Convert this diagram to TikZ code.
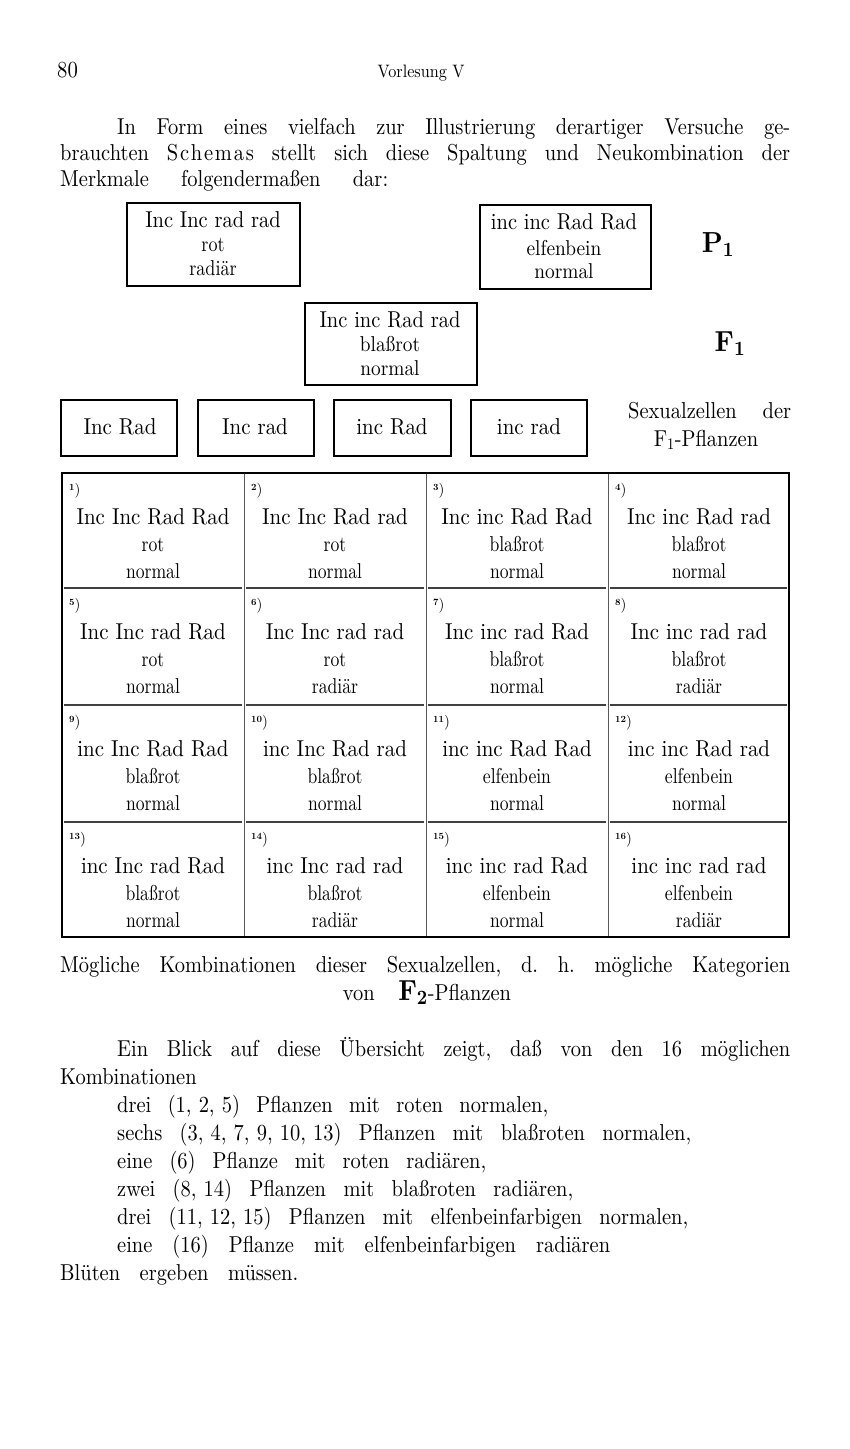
\documentclass[tikz,border=0pt]{standalone}
\usepackage{graphicx}
\DeclareFontShape{TU}{lmr}{m}{n}{<-> "[lmroman10-regular]:+tlig;"}{}
\DeclareFontShape{TU}{lmr}{b}{n}{<-> "[lmromandemi10-regular]:+tlig;"}{}
\DeclareFontShape{TU}{lmr}{bx}{n}{<-> "[lmroman10-bold]:+tlig;"}{}
\newcommand\myfs[1]{\fontsize{#1}{#1}\selectfont}
\newcommand\cnd[2]{\scalebox{#1}[1]{#2}}
\newcommand\jl[2]{\scalebox{0.89}[1]{\makebox[\dimexpr #1pt*100/89\relax][s]{#2}}}
\newcommand\numlab[1]{{\myfs{15}\raisebox{4pt}{\myfs{9.5}\bfseries #1})}}
\newcommand\cs{,\kern8pt }
\frenchspacing
\begin{document}
\begin{tikzpicture}[x=1pt,y=-1pt,
  box/.style={draw, line width=2.4pt, inner sep=0pt},
  txt/.style={anchor=base, inner sep=0pt},
  ltxt/.style={anchor=base west, inner sep=0pt},
  body/.style={ltxt, font=\myfs{23}},
  maintxt/.style={txt, font=\myfs{23}},
  subtxt/.style={txt, font=\myfs{21.5}},
  grid/.style={line width=0.9pt, black!65},
  frame/.style={line width=2.8pt, black}]
\path[fill=white,use as bounding box] (0,0) rectangle (850,1449);

% header
\node[ltxt, font=\myfs{23}] (pg) at (57,77) {\cnd{0.9}{80}};
\node[txt, font=\myfs{18}] (hd) at (421,77) {\cnd{0.9}{Vorlesung V}};

% first paragraph
\node[body] (t1) at (117,134) {\jl{673}{In Form eines vielfach zur Illustrierung derartiger Versuche ge-}};
\node[body] (t2) at (60,160) {\jl{730}{brauchten S\kern2pt c\kern2pt h\kern2pt e\kern2pt m\kern2pt a\kern2pt s stellt sich diese Spaltung und Neukombination der}};
\node[body] (t3) at (60,186) {\jl{328}{Merkmale folgendermaßen dar:}};

% P1 generation
\node[box, minimum width=173pt, minimum height=83pt] (pa) at (213.5,244.5) {};
\node[maintxt] (pam) at (213,227) {\cnd{0.89}{Inc Inc rad rad}};
\node[subtxt] (pa1) at (213,251) {\cnd{0.84}{rot}};
\node[subtxt] (pa2) at (213,275) {\cnd{0.84}{radiär}};

\node[box, minimum width=171pt, minimum height=84pt] (pb) at (565.5,247) {};
\node[maintxt] (pbm) at (564,229) {\cnd{0.89}{inc inc Rad Rad}};
\node[subtxt] (pb1) at (564,255) {\cnd{0.9}{elfenbein}};
\node[subtxt] (pb2) at (564,278) {\cnd{0.9}{normal}};

\node[txt, font=\myfs{29}\bfseries] (P1) at (718,252) {\cnd{0.92}{P\textsubscript{1}}};

% F1 generation
\node[box, minimum width=172pt, minimum height=82pt] (f) at (391,344) {};
\node[maintxt] (fm) at (390,327) {\cnd{0.89}{Inc inc Rad rad}};
\node[subtxt] (f1) at (390,351) {\cnd{0.9}{blaßrot}};
\node[subtxt] (f2) at (390,375) {\cnd{0.9}{normal}};

\node[txt, font=\myfs{29}\bfseries] (F1) at (730,351) {\cnd{0.92}{F\textsubscript{1}}};

% gametes
\node[box, minimum width=116pt, minimum height=56pt] (g1) at (119,428) {};
\node[box, minimum width=116pt, minimum height=56pt] (g2) at (256,428) {};
\node[box, minimum width=117pt, minimum height=56pt] (g3) at (392.5,428) {};
\node[box, minimum width=116pt, minimum height=56pt] (g4) at (529,428) {};
\node[maintxt] (g1t) at (120,434) {\cnd{0.91}{Inc Rad}};
\node[maintxt] (g2t) at (255,434) {\cnd{0.91}{Inc rad}};
\node[maintxt] (g3t) at (392,434) {\cnd{0.91}{inc Rad}};
\node[maintxt] (g4t) at (529,434) {\cnd{0.91}{inc rad}};

\node[body] (sx1) at (628,418) {\jl{163}{Sexualzellen der}};
\node[txt, font=\myfs{23}] (sx2) at (706,446) {\cnd{0.89}{F\textsubscript{1}-Pflanzen}};

% table
\foreach \x in {244,426,608} \draw[grid] (\x,473) -- (\x,937);
\foreach \y in {588,705,822}
  \foreach \l/\r in {64/242,246/424,428/606,610/787}
    \draw[grid, line width=1.1pt, black!75] (\l,\y) -- (\r,\y);
\draw[frame] (62,473) rectangle (789,937);

\foreach \n/\col/\row/\m/\a/\b in {
  1/0/0/{Inc Inc Rad Rad}/rot/normal,
  2/1/0/{Inc Inc Rad rad}/rot/normal,
  3/2/0/{Inc inc Rad Rad}/blaßrot/normal,
  4/3/0/{Inc inc Rad rad}/blaßrot/normal,
  5/0/1/{Inc Inc rad Rad}/rot/normal,
  6/1/1/{Inc Inc rad rad}/rot/radiär,
  7/2/1/{Inc inc rad Rad}/blaßrot/normal,
  8/3/1/{Inc inc rad rad}/blaßrot/radiär,
  9/0/2/{inc Inc Rad Rad}/blaßrot/normal,
  10/1/2/{inc Inc Rad rad}/blaßrot/normal,
  11/2/2/{inc inc Rad Rad}/elfenbein/normal,
  12/3/2/{inc inc Rad rad}/elfenbein/normal,
  13/0/3/{inc Inc rad Rad}/blaßrot/normal,
  14/1/3/{inc Inc rad rad}/blaßrot/radiär,
  15/2/3/{inc inc rad Rad}/elfenbein/normal,
  16/3/3/{inc inc rad rad}/elfenbein/radiär}{
  \pgfmathsetmacro\cx{62+182*\col+91}
  \pgfmathsetmacro\ty{{473,588,705,822}[\row]}
  \node[ltxt] (c\n l) at (\cx-84,\ty+21) {\numlab{\n}};
  \node[maintxt] (c\n m) at (\cx,\ty+51) {\cnd{0.91}{\m}};
  \node[subtxt] (c\n a) at (\cx,\ty+78) {\cnd{0.82}{\a}};
  \node[subtxt] (c\n b) at (\cx,\ty+105) {\cnd{0.82}{\b}};
}

% caption
\node[body] (cap1) at (60,972) {\jl{730}{Mögliche Kombinationen dieser Sexualzellen, d. h. mögliche Kategorien}};
\node[txt, font=\myfs{23}] (cap2) at (427,1000) {\scalebox{0.89}[1]{\makebox[189pt][s]{von {\myfs{29}\bfseries F\textsubscript{2}}-Pflanzen}}};

% second paragraph
\node[body] (b1) at (117,1056) {\jl{673}{Ein Blick auf diese Übersicht zeigt, daß von den 16 möglichen}};
\node[body] (b2) at (60,1084) {\cnd{0.89}{Kombinationen}};
\node[body] (b3) at (117,1112) {\jl{431}{drei (1\cs 2\cs 5) Pflanzen mit roten normalen,}};
\node[body] (b4) at (117,1140) {\jl{574}{sechs (3\cs 4\cs 7\cs 9\cs 10\cs 13) Pflanzen mit blaßroten normalen,}};
\node[body] (b5) at (117,1168) {\jl{369}{eine (6) Pflanze mit roten radiären,}};
\node[body] (b6) at (117,1196) {\jl{456}{zwei (8\cs 14) Pflanzen mit blaßroten radiären,}};
\node[body] (b7) at (117,1224) {\jl{571}{drei (11\cs 12\cs 15) Pflanzen mit elfenbeinfarbigen normalen,}};
\node[body] (b8) at (117,1252) {\jl{493}{eine (16) Pflanze mit elfenbeinfarbigen radiären}};
\node[body] (b9) at (60,1280) {\jl{238}{Blüten ergeben müssen.}};
\end{tikzpicture}
\end{document}
